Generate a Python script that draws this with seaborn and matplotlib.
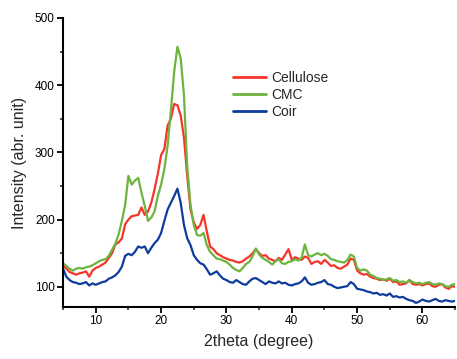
import numpy as np
import pandas as pd
import matplotlib
matplotlib.use("Agg")
import matplotlib.pyplot as plt
from matplotlib.ticker import MultipleLocator
import seaborn as sns

two_theta = [5.0 + 0.5 * i for i in range(121)]

cellulose = [132, 127, 122, 120, 118, 120, 121, 123, 115, 124,
             128, 130, 133, 136, 143, 150, 163, 166, 172, 193,
             200, 205, 206, 207, 218, 207, 212, 225, 245, 268,
             296, 305, 340, 350, 372, 370, 355, 322, 265, 215,
             196, 186, 192, 207, 182, 160, 156, 150, 147, 144,
             142, 140, 139, 137, 136, 138, 142, 145, 150, 156,
             150, 146, 147, 142, 140, 138, 143, 140, 148, 156,
             140, 144, 142, 140, 145, 143, 134, 137, 138, 134,
             140, 136, 131, 132, 128, 127, 130, 133, 142, 140,
             124, 120, 118, 119, 115, 113, 112, 110, 111, 109,
             112, 107, 108, 103, 104, 105, 110, 104, 103, 104,
             102, 104, 105, 101, 100, 103, 104, 99, 97, 101,
             100]

cmc = [135, 131, 127, 124, 127, 128, 127, 129, 130, 132,
       135, 138, 140, 141, 146, 155, 164, 178, 198, 222,
       265, 252, 258, 262, 240, 220, 198, 203, 212, 235,
       252, 275, 310, 362, 420, 457, 440, 385, 278, 222,
       192, 177, 176, 180, 162, 152, 147, 142, 141, 139,
       137, 133, 128, 125, 123, 128, 134, 137, 145, 157,
       148, 143, 140, 137, 133, 138, 141, 135, 134, 137,
       138, 141, 139, 143, 163, 147, 145, 148, 150, 147,
       149, 146, 141, 140, 138, 137, 136, 140, 148, 145,
       128, 124, 126, 124, 118, 116, 113, 112, 110, 111,
       113, 109, 110, 107, 108, 106, 110, 107, 105, 106,
       104, 106, 107, 104, 103, 105, 104, 101, 100, 103,
       104]

coir = [127, 115, 110, 107, 106, 104, 105, 107, 102, 105,
        103, 105, 107, 108, 112, 114, 117, 122, 130, 146,
        149, 147, 152, 160, 158, 160, 150, 158, 165, 170,
        180, 198, 215, 225, 235, 246, 225, 192, 172, 162,
        147, 140, 135, 133, 126, 118, 120, 123, 117, 112,
        110, 107, 106, 110, 107, 104, 103, 108, 112, 113,
        110, 107, 104, 108, 106, 105, 108, 105, 106, 103,
        102, 104, 105, 108, 114, 106, 103, 104, 106, 107,
        110, 104, 103, 100, 98, 99, 100, 101, 107, 104,
        97, 96, 95, 93, 92, 90, 91, 88, 89, 87,
        90, 85, 86, 84, 85, 82, 80, 79, 76, 78,
        81, 79, 78, 80, 82, 79, 78, 80, 79, 78,
        79]

series_names = ["Cellulose", "CMC", "Coir"]
colors = ["#f5352a", "#6cb43f", "#0d3c9c"]

df = pd.concat([
    pd.DataFrame({"2theta": two_theta, "Intensity": vals, "Sample": name})
    for name, vals in zip(series_names, [cellulose, cmc, coir])
])

sns.set_style("ticks")
plt.rcParams["font.family"] = ["Liberation Sans", "DejaVu Sans"]

fig = plt.figure(figsize=(4.57, 3.59), dpi=100)
ax = fig.add_axes([0.138, 0.145, 0.858, 0.805])

sns.lineplot(data=df, x="2theta", y="Intensity", hue="Sample",
             hue_order=series_names, palette=colors, linewidth=1.6,
             ax=ax, legend=True)

ax.set_xlim(5, 65)
ax.set_ylim(70, 500)
ax.xaxis.set_major_locator(MultipleLocator(10))
ax.xaxis.set_minor_locator(MultipleLocator(5))
ax.yaxis.set_major_locator(MultipleLocator(100))
ax.yaxis.set_minor_locator(MultipleLocator(50))
ax.tick_params(which="major", direction="out", length=4, width=1.3,
               labelsize=8.5, colors="black", pad=2)
ax.tick_params(which="minor", direction="out", length=2.5, width=1.1)
for s in ["top", "right"]:
    ax.spines[s].set_visible(False)
for s in ["left", "bottom"]:
    ax.spines[s].set_linewidth(1.5)
    ax.spines[s].set_color("black")

ax.set_xlabel("2theta (degree)", fontsize=11.5, labelpad=5)
ax.set_ylabel("Intensity (abr. unit)", fontsize=11.5, labelpad=6)

leg = ax.legend(loc="upper left", bbox_to_anchor=(0.418, 0.835), frameon=False,
                fontsize=10, handlelength=2.4, handletextpad=0.4,
                labelspacing=0.2, borderaxespad=0)
for line in leg.get_lines():
    line.set_linewidth(2)

fig.savefig("out.png", dpi=100)
